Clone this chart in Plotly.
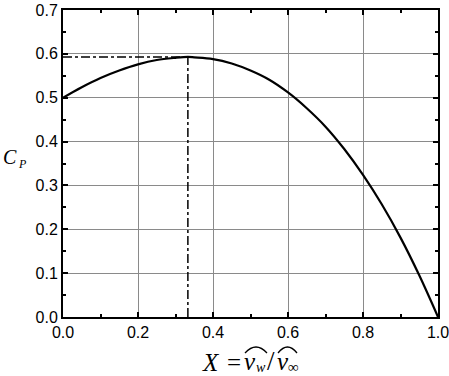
import plotly.graph_objects as go

# Curve values
X = [0.0, 0.05, 0.10, 0.15, 0.20, 0.25, 0.30, 0.333, 0.35, 0.40, 0.45, 0.50,
     0.55, 0.60, 0.65, 0.70, 0.75, 0.80, 0.85, 0.90, 0.95, 1.0]
CP = [0.500, 0.524, 0.545, 0.562, 0.576, 0.586, 0.591, 0.593, 0.592, 0.588, 0.578, 0.562,
      0.541, 0.512, 0.476, 0.434, 0.383, 0.324, 0.257, 0.181, 0.095, 0.0]

# Optimum marker lines
X_OPT = 0.333
CP_OPT = 0.593

x_ticks = [0.0, 0.2, 0.4, 0.6, 0.8, 1.0]
y_ticks = [0.0, 0.1, 0.2, 0.3, 0.4, 0.5, 0.6, 0.7]

fig = go.Figure()
fig.add_trace(go.Scatter(x=[0, X_OPT], y=[CP_OPT, CP_OPT], mode="lines",
                         line=dict(color="black", width=1.5, dash="dashdot"), showlegend=False))
fig.add_trace(go.Scatter(x=[X_OPT, X_OPT], y=[0, CP_OPT], mode="lines",
                         line=dict(color="black", width=1.5, dash="dashdot"), showlegend=False))
fig.add_trace(go.Scatter(x=X, y=CP, mode="lines", line=dict(color="black", width=2.2, shape="spline"),
                         showlegend=False))

axis_font = dict(family="Liberation Sans, Arial", size=16, color="black")
fig.update_xaxes(range=[0, 1], tickvals=x_ticks, ticktext=[f"{v:.1f}" for v in x_ticks],
                 showgrid=True, gridcolor="#8a8a8a", gridwidth=1, automargin=False,
                 ticklabeloverflow="allow",
                 showline=True, linecolor="black", linewidth=2, mirror="ticks",
                 ticks="inside", ticklen=5, tickwidth=1.5, tickcolor="black",
                 minor=dict(dtick=0.1, ticks="inside", ticklen=3, tickwidth=1.5, tickcolor="black", showgrid=False),
                 tickfont=axis_font, zeroline=False)
fig.update_yaxes(range=[0, 0.7], tickvals=y_ticks, ticktext=[f"{v:.1f}" for v in y_ticks],
                 showgrid=True, gridcolor="#8a8a8a", gridwidth=1, automargin=False,
                 ticklabeloverflow="allow",
                 showline=True, linecolor="black", linewidth=2, mirror="ticks",
                 ticks="inside", ticklen=5, tickwidth=1.5, tickcolor="black",
                 minor=dict(dtick=0.05, ticks="inside", ticklen=3, tickwidth=1.5, tickcolor="black", showgrid=False),
                 tickfont=axis_font, zeroline=False)

L, R, T, B = 63, 11, 10, 59
W, H = 449, 376
PW = W - L - R
PH = H - T - B

serif = "Liberation Serif, Times New Roman"


def fx(px):
    return (px - L) / PW


def fy(py):
    return 1 - (py - T) / PH


def px_ann(px, py, text, size=25, xanchor="left"):
    fig.add_annotation(x=fx(px), y=fy(py), xref="paper", yref="paper",
                       text=text, showarrow=False, xanchor=xanchor, yanchor="middle",
                       font=dict(family=serif, size=size, color="black"))


def hat(x0, x1, ybase, ytop):
    xm = (x0 + x1) / 2
    yc = 2 * ytop - ybase
    fig.add_shape(type="path", xref="paper", yref="paper",
                  path=f"M {fx(x0)},{fy(ybase)} Q {fx(xm)},{fy(yc)} {fx(x1)},{fy(ybase)}",
                  line=dict(color="black", width=1.3))


# y-axis title
px_ann(1, 157, "<i>C</i>", size=20)
px_ann(16, 164, "<i>P</i>", size=12)

# x-axis title  X = v_w / v_inf with hats
px_ann(200, 362, "<i>X</i>")
px_ann(225, 362, "=")
px_ann(242, 361, "<i>v</i>")
px_ann(254, 367, "<i>w</i>", size=14)
px_ann(265, 361, "/", size=27)
px_ann(275, 361, "<i>v</i>")
px_ann(286, 367, "\u221e", size=15)
hat(245, 267, 353, 347)
hat(278, 297, 353, 347)

fig.update_layout(width=W, height=H, margin=dict(l=L, r=R, t=T, b=B),
                  plot_bgcolor="white", paper_bgcolor="white")
fig.write_html("out.html")
